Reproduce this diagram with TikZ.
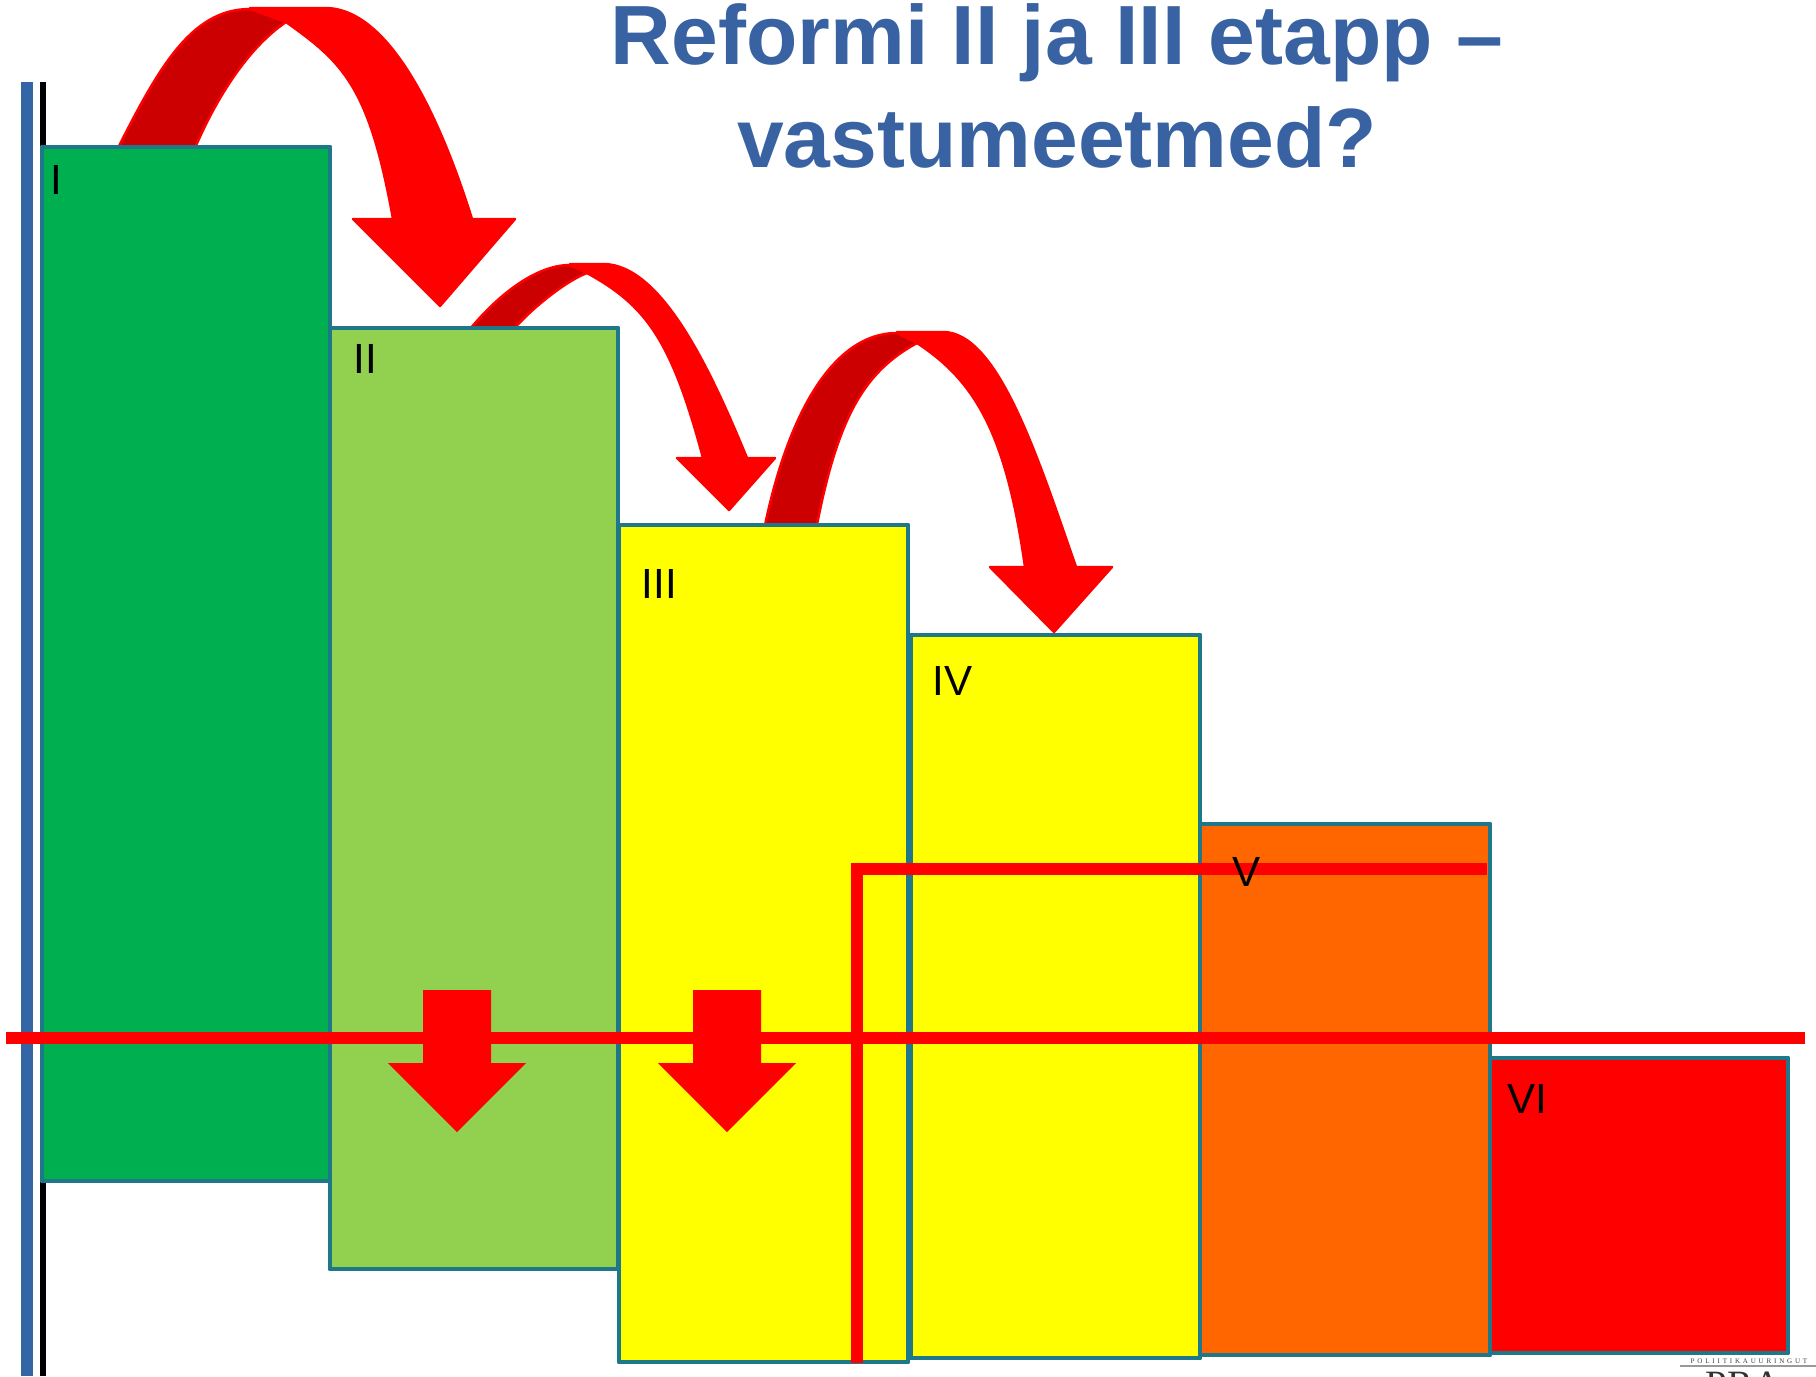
\documentclass[tikz,border=0pt]{standalone}
\usepackage{fontspec}
\setmainfont{Liberation Sans}
\newfontfamily\logoserif{Liberation Serif}
\newfontfamily\logospaced[LetterSpace=40]{Liberation Serif}

\definecolor{rim}{RGB}{31,119,138}
\definecolor{barblue}{RGB}{52,101,164}
\definecolor{titleblue}{RGB}{56,98,161}
\definecolor{stageI}{RGB}{0,176,80}
\definecolor{stageII}{RGB}{146,208,80}
\definecolor{stageIII}{RGB}{255,255,0}
\definecolor{stageV}{RGB}{255,102,0}
\definecolor{stageVI}{RGB}{255,0,0}
\definecolor{backred}{RGB}{204,0,0}

\tikzset{
  stage/.style={draw=rim, line width=1.4pt, line join=round},
  stagelabel/.style={anchor=base west, inner sep=0pt, font=\fontsize{12}{14}\selectfont},
  backband/.style={fill=backred, draw=red, line width=0.7pt, line join=round},
  frontband/.style={fill=red, draw=red, line width=0.7pt, line join=round},
  redline/.style={draw=red, line width=3.4pt},
  title/.style={text=titleblue, inner sep=0pt, font=\fontsize{23.9}{29}\selectfont\bfseries}
}

\begin{document}
\begin{tikzpicture}[x=0.01cm, y=-0.01cm]
    \useasboundingbox (0,0) rectangle (1816,1376);

    % 左侧竖线
    \fill[barblue] (21,82) rectangle (33,1376);
    \fill[black] (40,82) rectangle (46,1376);

    % 弯曲箭头 I -> II
    \filldraw[backband] (112,160) .. controls (157,70) and (190,9) .. (250,9)
        -- (286,22) .. controls (245,50) and (212,105) .. (190,160) -- cycle;
    \filldraw[frontband] (250,8) -- (325,8) .. controls (395,8) and (446,136) .. (472,219)
        -- (515,219) -- (440,306) -- (353,219) -- (393,219)
        .. controls (369,85) and (342,62) .. (286,22) -- cycle;

    % 弯曲箭头 II -> III
    \filldraw[backband] (463,338) .. controls (487,306) and (530,265) .. (570,265)
        -- (587,273) .. controls (563,282) and (521,317) .. (507,338) -- cycle;
    \filldraw[frontband] (570,264) -- (603,264) .. controls (663,264) and (713,376) .. (747,458)
        -- (775,458) -- (729,510) -- (677,458) -- (703,458)
        .. controls (671,338) and (645,305) .. (587,273) -- cycle;

    % 弯曲箭头 III -> IV
    \filldraw[backband] (763,535) .. controls (786,417) and (832,333) .. (897,333)
        -- (917,343) .. controls (864,372) and (837,417) .. (815,535) -- cycle;
    \filldraw[frontband] (897,332) -- (943,332) .. controls (998,332) and (1038,458) .. (1076,567)
        -- (1112,567) -- (1054,632) -- (990,567) -- (1025,567)
        .. controls (1006,433) and (975,381) .. (917,343) -- cycle;

    % 各阶段
    \filldraw[stage, fill=stageI] (42,147) rectangle (330,1181);
    \filldraw[stage, fill=stageII] (330,328) rectangle (618,1269);
    \filldraw[stage, fill=stageIII] (619,525) rectangle (908,1362);
    \filldraw[stage, fill=stageIII] (911,635) rectangle (1200,1358);
    \filldraw[stage, fill=stageV] (1200,824) rectangle (1490,1355);
    \filldraw[stage, fill=stageVI] (1490,1058) rectangle (1788,1353);

    % 向下箭头
    \foreach \cx in {457,727}
        \fill[red] (\cx-34,990) -- (\cx+34,990) -- (\cx+34,1063) -- (\cx+69,1063)
            -- (\cx,1132) -- (\cx-69,1063) -- (\cx-34,1063) -- cycle;

    % 红线
    \draw[redline] (6,1038) -- (1805,1038);
    \draw[redline] (857,1363) -- (857,869) -- (1487,869);

    \node[stagelabel] (lblI) at (50,195) {I};
    \node[stagelabel] (lblII) at (353,373) {II};
    \node[stagelabel] (lblIII) at (641,598) {III};
    \node[stagelabel] (lblIV) at (932,695) {IV};
    \node[stagelabel] (lblV) at (1232,886) {V};
    \node[stagelabel] (lblVI) at (1507,1113) {VI};

    % 标题
    \node[title, anchor=base] (titleA) at (1057,65) {Reformi II ja III etapp –};
    \node[title, anchor=base] (titleB) at (1057,168) {vastumeetmed?};

    % 角落标志
    \node[anchor=west, inner sep=0pt, text=black!75, font={\logospaced\fontsize{2}{2.4}\selectfont}] (logoA) at (1690,1361) {POLIITIKAUURINGUT};
    \draw[black!40, line width=0.3pt] (1680,1366) -- (1816,1366);
    \node[anchor=north west, inner sep=0pt, text=black!80, font={\logoserif\fontsize{11}{12}\selectfont}] (logoB) at (1705,1371) {PRA};
\end{tikzpicture}
\end{document}
